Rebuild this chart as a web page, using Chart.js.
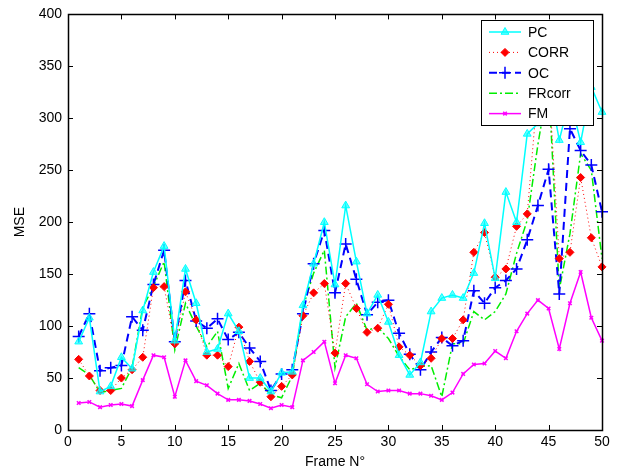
<!DOCTYPE html>
<html>
<head>
<meta charset="utf-8">
<script src="https://cdn.jsdelivr.net/npm/chart.js@4.4.1/dist/chart.umd.min.js"></script>
<style>
  html, body { margin: 0; padding: 0; background: #fff; }
</style>
</head>
<body>
<canvas id="chart" width="624" height="473"></canvas>
<script>
// data
const frames = [1,2,3,4,5,6,7,8,9,10,11,12,13,14,15,16,17,18,19,20,21,22,23,24,25,26,27,28,29,30,31,32,33,34,35,36,37,38,39,40,41,42,43,44,45,46,47,48,49,50];
const pc = [85,108,37,42,70,59,115,152,177,86,155,122,75,78,112,95,50,50,37,55,56,120,160,200,140,216,162,112,130,104,72,53,65,114,127,130,127,151,199,146,229,200,285,295,335,279,320,277,330,306];
const corr = [68,52,38,38,50,58,70,137,138,83,133,106,72,72,61,99,66,46,32,42,53,110,132,141,74,141,117,94,98,121,80,72,62,69,88,88,106,171,190,147,155,196,208,330,340,165,171,243,185,157];
const oc = [90,112,57,60,62,109,96,140,173,85,144,105,98,107,87,94,79,66,38,54,58,112,160,192,132,179,145,111,123,125,93,73,58,75,89,81,86,134,122,137,144,155,183,216,251,131,290,269,255,210];
const frcorr = [60,53,36,38,40,60,118,138,162,77,122,100,80,95,40,64,38,45,34,31,52,118,151,173,60,109,122,96,99,88,71,58,61,62,32,83,83,114,106,114,131,170,202,275,335,135,189,266,250,165];
const fm = [26,27,22,24,25,23,48,72,70,32,67,47,43,35,29,29,28,25,21,24,22,67,75,85,45,72,69,44,37,38,38,35,35,33,29,36,54,63,64,76,69,95,112,125,117,78,122,152,108,86];

const xTickValues = [0,5,10,15,20,25,30,35,40,45,50];
const yTickValues = [0,50,100,150,200,250,300,350,400];

const FONT = 'Liberation Sans, Arial, sans-serif';

const toPoints = vals => vals.map((v, i) => ({ x: frames[i], y: v }));

// matlab style box with inward ticks on all four sides
const boxPlugin = {
  id: 'box',
  afterDatasetsDraw(chart) {
    const { ctx, chartArea: a, scales } = chart;
    ctx.save();
    ctx.strokeStyle = '#000';
    ctx.lineWidth = 1;
    ctx.beginPath();
    xTickValues.forEach(v => {
      const px = Math.round(scales.x.getPixelForValue(v)) + 0.5;
      ctx.moveTo(px, a.bottom); ctx.lineTo(px, a.bottom - 5);
      ctx.moveTo(px, a.top); ctx.lineTo(px, a.top + 5);
    });
    yTickValues.forEach(v => {
      const py = Math.round(scales.y.getPixelForValue(v)) + 0.5;
      ctx.moveTo(a.left, py); ctx.lineTo(a.left + 5, py);
      ctx.moveTo(a.right, py); ctx.lineTo(a.right - 5, py);
    });
    ctx.stroke();
    ctx.lineWidth = 1.5;
    ctx.strokeRect(Math.round(a.left) + 0.5, Math.round(a.top) + 0.5,
      Math.round(a.right - a.left), Math.round(a.bottom - a.top));
    ctx.restore();
  }
};

// legend box drawn over the lines, top right corner
const legendPlugin = {
  id: 'boxLegend',
  afterDraw(chart) {
    const { ctx } = chart;
    const x0 = 481, y0 = 20, w = 112, h = 105;
    ctx.save();
    ctx.fillStyle = '#fff';
    ctx.fillRect(x0, y0, w, h);
    ctx.strokeStyle = '#000';
    ctx.lineWidth = 1;
    ctx.strokeRect(x0 + 0.5, y0 + 0.5, w, h);
    chart.data.datasets.forEach((ds, i) => {
      const y = y0 + 12 + i * 20.4;
      ctx.save();
      ctx.strokeStyle = ds.borderColor;
      ctx.lineWidth = ds.borderWidth;
      ctx.setLineDash(ds.borderDash || []);
      ctx.beginPath();
      ctx.moveTo(x0 + 8, y);
      ctx.lineTo(x0 + 40, y);
      ctx.stroke();
      ctx.restore();
      if (ds.pointRadius > 0) {
        ctx.save();
        ctx.fillStyle = ds.pointBackgroundColor;
        ctx.strokeStyle = ds.pointBorderColor;
        ctx.lineWidth = ds.pointBorderWidth;
        Chart.helpers.drawPoint(ctx, {
          pointStyle: ds.pointStyle,
          radius: ds.pointRadius,
          borderWidth: ds.pointBorderWidth
        }, x0 + 24, y);
        ctx.restore();
      }
      ctx.fillStyle = '#000';
      ctx.font = '14px ' + FONT;
      ctx.textBaseline = 'middle';
      ctx.fillText(ds.label, x0 + 47, y + 1);
    });
    ctx.restore();
  }
};

new Chart(document.getElementById('chart'), {
  type: 'line',
  data: {
    datasets: [
      {
        label: 'PC',
        data: toPoints(pc),
        borderColor: '#00ffff',
        borderWidth: 1.5,
        pointStyle: 'triangle',
        pointRadius: 4.5,
        pointBorderWidth: 1,
        pointBackgroundColor: 'rgba(0,255,255,0.6)',
        pointBorderColor: '#00ffff'
      },
      {
        label: 'CORR',
        data: toPoints(corr),
        borderColor: '#ff0000',
        borderWidth: 1,
        borderDash: [1, 3],
        pointStyle: 'rectRot',
        pointRadius: 4,
        pointBorderWidth: 1,
        pointBackgroundColor: '#ff0000',
        pointBorderColor: '#ff0000'
      },
      {
        label: 'OC',
        data: toPoints(oc),
        borderColor: '#0000ff',
        borderWidth: 2,
        borderDash: [8, 5],
        pointStyle: 'cross',
        pointRadius: 6,
        pointBorderWidth: 1.5,
        pointBackgroundColor: '#0000ff',
        pointBorderColor: '#0000ff'
      },
      {
        label: 'FRcorr',
        data: toPoints(frcorr),
        borderColor: '#00ee00',
        borderWidth: 1.5,
        borderDash: [8, 3, 2, 3],
        pointRadius: 0,
        pointBorderWidth: 0,
        pointBackgroundColor: '#00ee00',
        pointBorderColor: '#00ee00'
      },
      {
        label: 'FM',
        data: toPoints(fm),
        borderColor: '#ff00ff',
        borderWidth: 1.5,
        pointStyle: 'crossRot',
        pointRadius: 2.5,
        pointBorderWidth: 1.5,
        pointBackgroundColor: '#ff00ff',
        pointBorderColor: '#ff00ff'
      }
    ]
  },
  options: {
    responsive: false,
    animation: false,
    devicePixelRatio: 1,
    layout: { padding: { top: 13, right: 22, left: 0, bottom: 0 } },
    elements: { line: { tension: 0 } },
    datasets: { line: { clip: false } },
    plugins: {
      legend: { display: false },
      tooltip: { enabled: false }
    },
    scales: {
      x: {
        type: 'linear',
        min: 0,
        max: 50,
        afterBuildTicks: s => { s.ticks = xTickValues.map(v => ({ value: v })); },
        afterFit: s => { s.height = 43; },
        grid: { display: false, drawTicks: false },
        border: { display: false },
        ticks: { color: '#000', padding: 4, maxRotation: 0, font: { family: FONT, size: 14 } },
        title: { display: true, text: 'Frame N°', color: '#000', padding: { top: 0, bottom: 2 }, font: { family: FONT, size: 14 } }
      },
      y: {
        min: 0,
        max: 400,
        afterBuildTicks: s => { s.ticks = yTickValues.map(v => ({ value: v })); },
        afterFit: s => { s.width = 68; },
        grid: { display: false, drawTicks: false },
        border: { display: false },
        ticks: { color: '#000', padding: 6, font: { family: FONT, size: 14 } },
        title: { display: true, text: 'MSE', color: '#000', padding: { top: 12, bottom: 0 }, font: { family: FONT, size: 14 } }
      }
    }
  },
  plugins: [boxPlugin, legendPlugin]
});
</script>
</body>
</html>
